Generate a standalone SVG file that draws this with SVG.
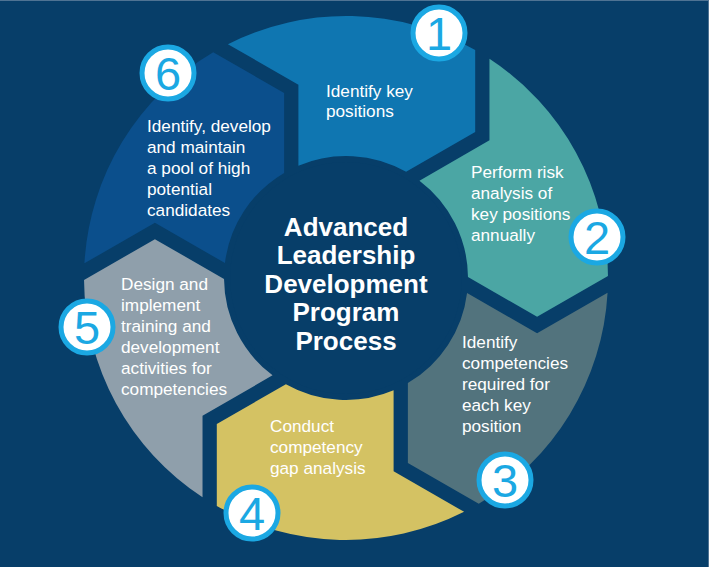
<svg xmlns="http://www.w3.org/2000/svg" xmlns:xlink="http://www.w3.org/1999/xlink" width="709" height="567" viewBox="0 0 709 567">
<defs>
<style>
.lbl{font-family:"Liberation Sans",Arial,sans-serif;font-size:17.2px;fill:#ffffff}
.title{font-family:"Liberation Sans",Arial,sans-serif;font-size:26px;font-weight:bold;fill:#ffffff;text-anchor:middle}
.badge circle{fill:#ffffff;stroke:#1ba8e3;stroke-width:5}
.badge text{font-family:"Liberation Sans",Arial,sans-serif;font-size:47px;fill:#1ba8e3;text-anchor:middle}
</style>
<path id="seg" d="M 227.9 44.15 A 262 262 0 0 1 475.2 50.1 L 475.2 131.95 L 406.1 171.85 A 122 122 0 0 0 298.4 165.7 L 298.4 84.85 Z"/>
</defs>
<rect x="0" y="0" width="709" height="567" fill="#073e69"/>
<rect x="0" y="0" width="709" height="1" fill="#4f7393"/>
<rect x="708" y="0" width="1" height="567" fill="#4f7393"/>

<g id="connectors"/>

<g id="step1">
<use xlink:href="#seg" fill="#0f76b1"/>
<text class="lbl"><tspan x="326" y="96.5">Identify key</tspan><tspan x="326" y="117">positions</tspan></text>
<g class="badge"><circle cx="439" cy="33" r="26"/><text x="439" y="50">1</text></g>
</g>

<g id="step2">
<use xlink:href="#seg" fill="#4ba6a4" transform="rotate(60 346 278)"/>
<text class="lbl"><tspan x="471" y="178">Perform risk</tspan><tspan x="471" y="199">analysis of</tspan><tspan x="471" y="220">key positions</tspan><tspan x="471" y="241">annually</tspan></text>
<g class="badge"><circle cx="597" cy="237" r="26"/><text x="597" y="254">2</text></g>
</g>

<g id="step3">
<use xlink:href="#seg" fill="#52737d" transform="rotate(120 346 278)"/>
<text class="lbl"><tspan x="462" y="348">Identify</tspan><tspan x="462" y="369">competencies</tspan><tspan x="462" y="390">required for</tspan><tspan x="462" y="411">each key</tspan><tspan x="462" y="432">position</tspan></text>
<g class="badge"><circle cx="505" cy="480" r="26"/><text x="505" y="497">3</text></g>
</g>

<g id="step4">
<use xlink:href="#seg" fill="#d4c263" transform="rotate(180 346 278)"/>
<text class="lbl"><tspan x="270" y="432">Conduct</tspan><tspan x="270" y="453">competency</tspan><tspan x="270" y="474">gap analysis</tspan></text>
<g class="badge"><circle cx="252" cy="513" r="26"/><text x="252" y="530">4</text></g>
</g>

<g id="step5">
<use xlink:href="#seg" fill="#8f9fab" transform="rotate(240 346 278)"/>
<text class="lbl"><tspan x="121" y="289.5">Design and</tspan><tspan x="121" y="310.5">implement</tspan><tspan x="121" y="331.5">training and</tspan><tspan x="121" y="352.5">development</tspan><tspan x="121" y="373.5">activities for</tspan><tspan x="121" y="394.5">competencies</tspan></text>
<g class="badge"><circle cx="87" cy="327" r="26"/><text x="87" y="344">5</text></g>
</g>

<g id="step6">
<use xlink:href="#seg" fill="#0b4f8c" transform="rotate(300 346 278)"/>
<text class="lbl"><tspan x="147" y="131.5">Identify, develop</tspan><tspan x="147" y="152.5">and maintain</tspan><tspan x="147" y="173.5">a pool of high</tspan><tspan x="147" y="194.5">potential</tspan><tspan x="147" y="215.5">candidates</tspan></text>
<g class="badge"><circle cx="168" cy="73" r="26"/><text x="168" y="90">6</text></g>
</g>

<g id="center">
<circle cx="346" cy="278" r="116" fill="#073e69"/>
<text class="title"><tspan x="346" y="235.5">Advanced</tspan><tspan x="346" y="264">Leadership</tspan><tspan x="346" y="292.5">Development</tspan><tspan x="346" y="321">Program</tspan><tspan x="346" y="349.5">Process</tspan></text>
</g>
</svg>
